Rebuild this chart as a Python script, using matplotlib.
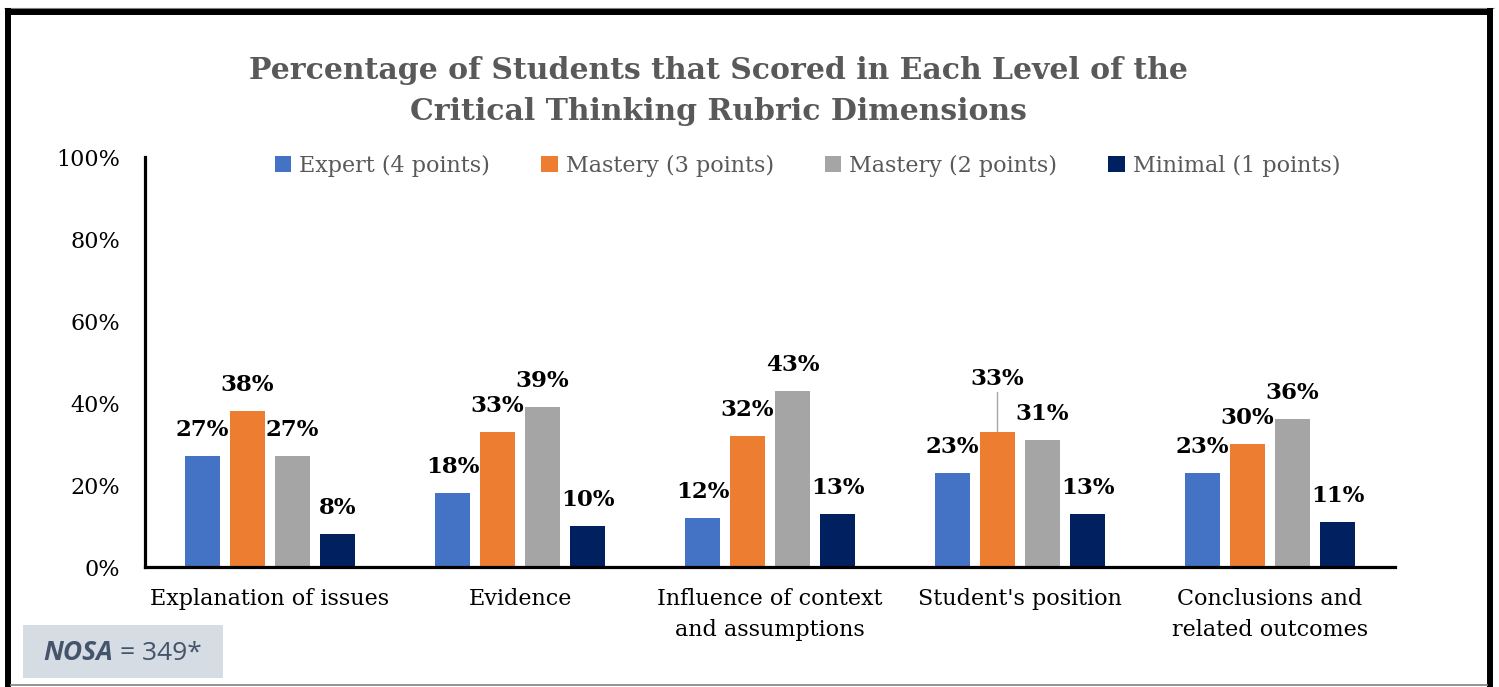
import matplotlib
matplotlib.use("Agg")
import matplotlib.pyplot as plt
from matplotlib.lines import Line2D
from matplotlib.patches import Rectangle
import numpy as np

categories = ["Explanation of issues", "Evidence", "Influence of context\nand assumptions",
              "Student's position", "Conclusions and\nrelated outcomes"]
series = ["Expert (4 points)", "Mastery (3 points)", "Mastery (2 points)", "Minimal (1 points)"]
expert = [27, 18, 12, 23, 23]
mastery3 = [38, 33, 32, 33, 30]
mastery2 = [27, 39, 43, 31, 36]
minimal = [8, 10, 13, 13, 11]
colors = ["#4472C4", "#ED7D31", "#A5A5A5", "#002060"]
yticks = [0, 20, 40, 60, 80, 100]

W, H = 1499, 687
fig = plt.figure(figsize=(W / 100, H / 100), dpi=100)
ax = fig.add_axes([145 / W, 1 - 567 / H, 1250 / W, 410 / H])

serif = "DejaVu Serif"
x = np.arange(len(categories))
offsets = [-0.27, -0.09, 0.09, 0.27]
width = 0.14
for vals, off, c, name in zip([expert, mastery3, mastery2, minimal], offsets, colors, series):
    ax.bar(x + off, vals, width, color=c, label=name, zorder=2)
    for bx, v in zip(x + off, vals):
        # the Student's position / Mastery (3) label is lifted with a leader line
        lifted = (name == "Mastery (3 points)" and 2.5 < bx < 3.5)
        if lifted:
            ax.annotate(f"{v}%", xy=(bx, v), xytext=(0, 53), textcoords="offset pixels",
                        ha="center", va="center", fontsize=16.5, fontweight="bold",
                        family=serif, color="black",
                        arrowprops=dict(arrowstyle="-", color="#A6A6A6", lw=1,
                                        shrinkA=0, shrinkB=0))
        else:
            ax.annotate(f"{v}%", xy=(bx, v), xytext=(0, 26), textcoords="offset pixels",
                        ha="center", va="center", fontsize=16.5, fontweight="bold",
                        family=serif, color="black")

ax.set_xlim(-0.5, len(categories) - 0.5)
ax.set_ylim(0, 100)
ax.set_yticks(yticks)
ax.set_yticklabels([f"{t}%" for t in yticks], family=serif, fontsize=16)
ax.set_xticks(x)
ax.set_xticklabels(categories, family=serif, fontsize=16, linespacing=1.55)
ax.tick_params(length=0, pad=18, colors="black")
ax.tick_params(axis="x", pad=15)
for s in ["top", "right"]:
    ax.spines[s].set_visible(False)
for s in ["left", "bottom"]:
    ax.spines[s].set_linewidth(2.3)
    ax.spines[s].set_color("black")

ax.legend(loc="center", bbox_to_anchor=(0.53, 0.978), ncol=4, frameon=False,
          handlelength=0.75, handleheight=0.75, handletextpad=0.35, columnspacing=2.3,
          prop={"family": serif, "size": 16}, labelcolor="#595959")

fig.text(718 / W, 1 - 91 / H,
         "Percentage of Students that Scored in Each Level of the\nCritical Thinking Rubric Dimensions",
         ha="center", va="center", family=serif, fontsize=21.5, fontweight="bold",
         color="#595959", linespacing=1.5)

# NOSA box
fig.add_artist(Rectangle((23 / W, 1 - 678 / H), 200 / W, 53 / H, transform=fig.transFigure,
                         facecolor="#D6DCE4", edgecolor="none"))
fig.text(113 / W, 1 - 653 / H, "NOSA", ha="right", va="center", fontsize=19,
         fontweight="bold", fontstyle="italic", family="Open Sans", color="#44546A")
fig.text(120 / W, 1 - 653 / H, "= 349*", ha="left", va="center", fontsize=19,
         family="Open Sans", color="#44546A")

# outer frame
def fline(xs, ys, lw, color):
    fig.add_artist(Line2D([v / W for v in xs], [1 - v / H for v in ys],
                          transform=fig.transFigure, lw=lw, color=color,
                          solid_capstyle="butt"))

fline([4, 1494], [8, 8], 0.8, "#808080")
fline([8, 8], [8, 687], 4.3, "black")
fline([1490, 1490], [8, 687], 4.3, "black")
fline([5, 1493], [12, 12], 4.3, "black")
fline([10, 1488], [685, 685], 1.2, "#808080")

fig.savefig("out.png", dpi=100)
